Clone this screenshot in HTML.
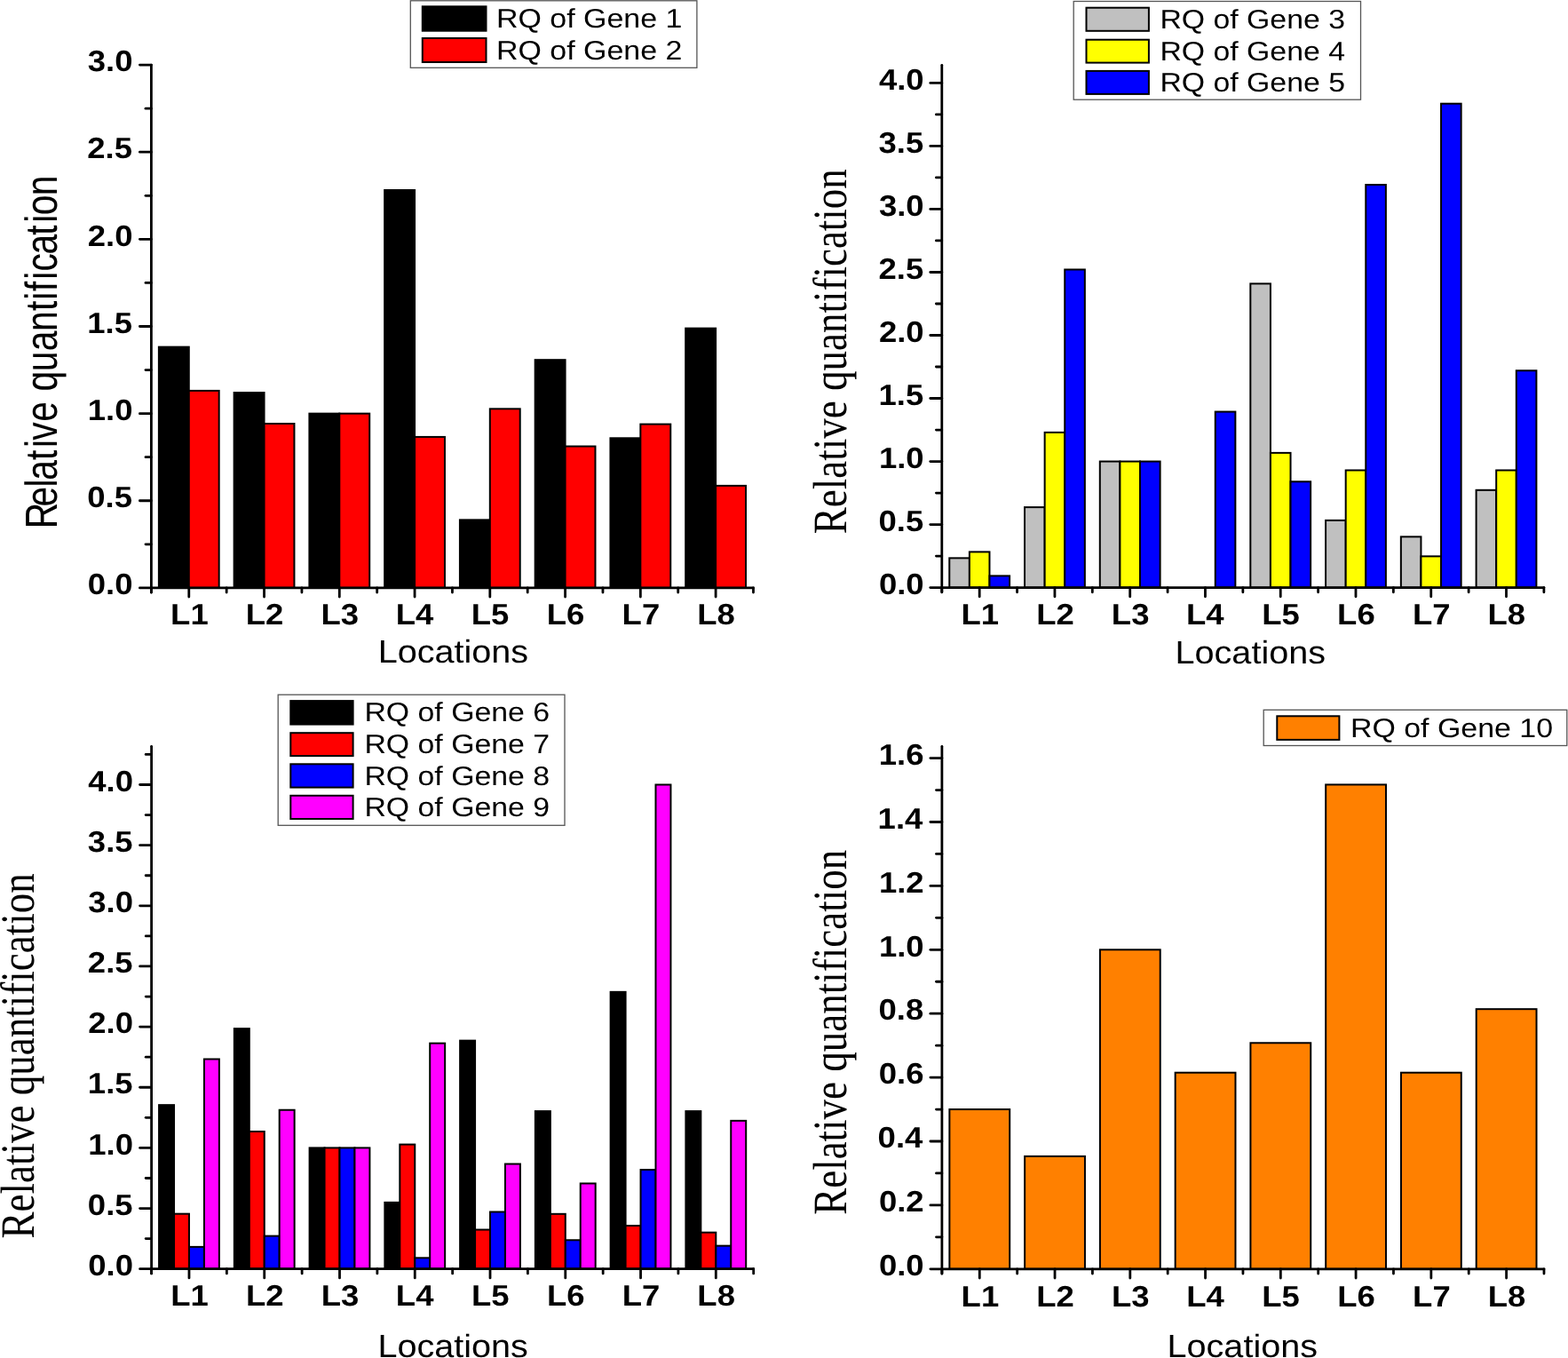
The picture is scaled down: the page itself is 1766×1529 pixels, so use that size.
<!DOCTYPE html>
<html><head><meta charset="utf-8"><title>Relative quantification charts</title>
<style>html,body{margin:0;padding:0;background:#fff;} svg{display:block;} text{text-rendering:geometricPrecision;}</style></head>
<body><svg width="1766" height="1529" viewBox="0 0 1766 1529">
<rect width="1766" height="1529" fill="#fff"/>
<rect x="178.88" y="390.65" width="33.90" height="271.25" fill="#000000" stroke="#000" stroke-width="2.0"/>
<rect x="212.78" y="439.92" width="33.90" height="221.98" fill="#ff0000" stroke="#000" stroke-width="2.0"/>
<rect x="263.64" y="442.08" width="33.90" height="219.82" fill="#000000" stroke="#000" stroke-width="2.0"/>
<rect x="297.54" y="477.01" width="33.90" height="184.89" fill="#ff0000" stroke="#000" stroke-width="2.0"/>
<rect x="348.40" y="465.63" width="33.90" height="196.27" fill="#000000" stroke="#000" stroke-width="2.0"/>
<rect x="382.30" y="465.63" width="33.90" height="196.27" fill="#ff0000" stroke="#000" stroke-width="2.0"/>
<rect x="433.16" y="214.01" width="33.90" height="447.89" fill="#000000" stroke="#000" stroke-width="2.0"/>
<rect x="467.06" y="491.93" width="33.90" height="169.97" fill="#ff0000" stroke="#000" stroke-width="2.0"/>
<rect x="517.92" y="585.35" width="33.90" height="76.55" fill="#000000" stroke="#000" stroke-width="2.0"/>
<rect x="551.82" y="460.33" width="33.90" height="201.57" fill="#ff0000" stroke="#000" stroke-width="2.0"/>
<rect x="602.68" y="405.18" width="33.90" height="256.72" fill="#000000" stroke="#000" stroke-width="2.0"/>
<rect x="636.58" y="502.53" width="33.90" height="159.37" fill="#ff0000" stroke="#000" stroke-width="2.0"/>
<rect x="687.44" y="493.30" width="33.90" height="168.60" fill="#000000" stroke="#000" stroke-width="2.0"/>
<rect x="721.34" y="477.60" width="33.90" height="184.30" fill="#ff0000" stroke="#000" stroke-width="2.0"/>
<rect x="772.20" y="369.65" width="33.90" height="292.25" fill="#000000" stroke="#000" stroke-width="2.0"/>
<rect x="806.10" y="546.89" width="33.90" height="115.01" fill="#ff0000" stroke="#000" stroke-width="2.0"/>
<g stroke="#000" stroke-width="2.8" stroke-linecap="round" fill="none">
<path d="M170.40,73.05V667.10"/>
<path d="M170.40,661.90H848.48"/>
<path d="M157.40,661.90H170.40"/>
<path d="M164.00,612.83H170.40"/>
<path d="M157.40,563.76H170.40"/>
<path d="M164.00,514.70H170.40"/>
<path d="M157.40,465.63H170.40"/>
<path d="M164.00,416.56H170.40"/>
<path d="M157.40,367.49H170.40"/>
<path d="M164.00,318.43H170.40"/>
<path d="M157.40,269.36H170.40"/>
<path d="M164.00,220.29H170.40"/>
<path d="M157.40,171.22H170.40"/>
<path d="M164.00,122.16H170.40"/>
<path d="M157.40,73.09H170.40"/>
<path d="M170.40,661.90V667.10"/>
<path d="M255.16,661.90V667.10"/>
<path d="M339.92,661.90V667.10"/>
<path d="M424.68,661.90V667.10"/>
<path d="M509.44,661.90V667.10"/>
<path d="M594.20,661.90V667.10"/>
<path d="M678.96,661.90V667.10"/>
<path d="M763.72,661.90V667.10"/>
<path d="M848.48,661.90V667.10"/>
<path d="M212.78,661.90V672.10"/>
<path d="M297.54,661.90V672.10"/>
<path d="M382.30,661.90V672.10"/>
<path d="M467.06,661.90V672.10"/>
<path d="M551.82,661.90V672.10"/>
<path d="M636.58,661.90V672.10"/>
<path d="M721.34,661.90V672.10"/>
<path d="M806.10,661.90V672.10"/>
</g>
<text transform="translate(98.70,669.11) scale(1.1000,1)" style="font-family:'Liberation Sans',Arial,sans-serif;font-weight:bold;font-size:33.20px">0.0</text>
<text transform="translate(98.24,570.98) scale(1.1000,1)" style="font-family:'Liberation Sans',Arial,sans-serif;font-weight:bold;font-size:33.20px">0.5</text>
<text transform="translate(98.70,472.84) scale(1.1000,1)" style="font-family:'Liberation Sans',Arial,sans-serif;font-weight:bold;font-size:33.20px">1.0</text>
<text transform="translate(98.24,374.54) scale(1.1000,1)" style="font-family:'Liberation Sans',Arial,sans-serif;font-weight:bold;font-size:33.20px">1.5</text>
<text transform="translate(98.70,276.57) scale(1.1000,1)" style="font-family:'Liberation Sans',Arial,sans-serif;font-weight:bold;font-size:33.20px">2.0</text>
<text transform="translate(98.24,178.44) scale(1.1000,1)" style="font-family:'Liberation Sans',Arial,sans-serif;font-weight:bold;font-size:33.20px">2.5</text>
<text transform="translate(98.70,80.26) scale(1.1000,1)" style="font-family:'Liberation Sans',Arial,sans-serif;font-weight:bold;font-size:33.20px">3.0</text>
<text transform="translate(192.11,702.90) scale(1.1000,1)" style="font-family:'Liberation Sans',Arial,sans-serif;font-weight:bold;font-size:33.20px">L1</text>
<text transform="translate(276.76,702.90) scale(1.1000,1)" style="font-family:'Liberation Sans',Arial,sans-serif;font-weight:bold;font-size:33.20px">L2</text>
<text transform="translate(361.43,702.90) scale(1.1000,1)" style="font-family:'Liberation Sans',Arial,sans-serif;font-weight:bold;font-size:33.20px">L3</text>
<text transform="translate(445.65,702.90) scale(1.1000,1)" style="font-family:'Liberation Sans',Arial,sans-serif;font-weight:bold;font-size:33.20px">L4</text>
<text transform="translate(530.82,702.90) scale(1.1000,1)" style="font-family:'Liberation Sans',Arial,sans-serif;font-weight:bold;font-size:33.20px">L5</text>
<text transform="translate(615.71,702.90) scale(1.1000,1)" style="font-family:'Liberation Sans',Arial,sans-serif;font-weight:bold;font-size:33.20px">L6</text>
<text transform="translate(700.61,702.90) scale(1.1000,1)" style="font-family:'Liberation Sans',Arial,sans-serif;font-weight:bold;font-size:33.20px">L7</text>
<text transform="translate(785.14,702.90) scale(1.1000,1)" style="font-family:'Liberation Sans',Arial,sans-serif;font-weight:bold;font-size:33.20px">L8</text>
<text transform="translate(425.63,746.30) scale(1.0940,1)" style="font-family:'Liberation Sans',Arial,sans-serif;font-size:36.20px">Locations</text>
<text x="0.00 24.79 46.73 54.47 77.21 91.12 99.46 120.51 143.25 154.65 176.89 199.93 222.16 245.20 257.51 267.25 280.56 289.60 308.65 330.59 344.50 352.94 374.98" y="0" transform="translate(63.95,595.21) rotate(-90) scale(1.0000,1.2460)" style="font-family:'Liberation Sans',Arial,sans-serif;font-size:40.70px">Relative quantification</text>
<rect x="462.30" y="0.80" width="322.60" height="75.50" fill="#fff" stroke="#555" stroke-width="1.3"/>
<rect x="475.80" y="7.30" width="71.70" height="27.40" fill="#000000" stroke="#000" stroke-width="2"/>
<text transform="translate(559.00,31.03) scale(1.1243,1)" style="font-family:'Liberation Sans',Arial,sans-serif;font-size:30.20px">RQ of Gene 1</text>
<rect x="475.80" y="43.00" width="71.70" height="27.00" fill="#ff0000" stroke="#000" stroke-width="2"/>
<text transform="translate(559.00,67.00) scale(1.1243,1)" style="font-family:'Liberation Sans',Arial,sans-serif;font-size:30.20px">RQ of Gene 2</text>
<rect x="1069.28" y="628.36" width="22.60" height="33.24" fill="#c0c0c0" stroke="#000" stroke-width="2.0"/>
<rect x="1091.88" y="621.40" width="22.60" height="40.20" fill="#ffff00" stroke="#000" stroke-width="2.0"/>
<rect x="1114.48" y="648.39" width="22.60" height="13.21" fill="#0000ff" stroke="#000" stroke-width="2.0"/>
<rect x="1154.04" y="571.11" width="22.60" height="90.49" fill="#c0c0c0" stroke="#000" stroke-width="2.0"/>
<rect x="1176.64" y="486.88" width="22.60" height="174.72" fill="#ffff00" stroke="#000" stroke-width="2.0"/>
<rect x="1199.24" y="303.49" width="22.60" height="358.11" fill="#0000ff" stroke="#000" stroke-width="2.0"/>
<rect x="1238.80" y="519.55" width="22.60" height="142.05" fill="#c0c0c0" stroke="#000" stroke-width="2.0"/>
<rect x="1261.40" y="519.55" width="22.60" height="142.05" fill="#ffff00" stroke="#000" stroke-width="2.0"/>
<rect x="1284.00" y="519.55" width="22.60" height="142.05" fill="#0000ff" stroke="#000" stroke-width="2.0"/>
<rect x="1368.76" y="463.58" width="22.60" height="198.02" fill="#0000ff" stroke="#000" stroke-width="2.0"/>
<rect x="1408.32" y="319.40" width="22.60" height="342.20" fill="#c0c0c0" stroke="#000" stroke-width="2.0"/>
<rect x="1430.92" y="509.89" width="22.60" height="151.71" fill="#ffff00" stroke="#000" stroke-width="2.0"/>
<rect x="1453.52" y="542.28" width="22.60" height="119.32" fill="#0000ff" stroke="#000" stroke-width="2.0"/>
<rect x="1493.08" y="585.89" width="22.60" height="75.71" fill="#c0c0c0" stroke="#000" stroke-width="2.0"/>
<rect x="1515.68" y="529.49" width="22.60" height="132.11" fill="#ffff00" stroke="#000" stroke-width="2.0"/>
<rect x="1538.28" y="208.03" width="22.60" height="453.57" fill="#0000ff" stroke="#000" stroke-width="2.0"/>
<rect x="1577.84" y="604.35" width="22.60" height="57.25" fill="#c0c0c0" stroke="#000" stroke-width="2.0"/>
<rect x="1600.44" y="626.37" width="22.60" height="35.23" fill="#ffff00" stroke="#000" stroke-width="2.0"/>
<rect x="1623.04" y="116.70" width="22.60" height="544.90" fill="#0000ff" stroke="#000" stroke-width="2.0"/>
<rect x="1662.60" y="551.80" width="22.60" height="109.80" fill="#c0c0c0" stroke="#000" stroke-width="2.0"/>
<rect x="1685.20" y="529.49" width="22.60" height="132.11" fill="#ffff00" stroke="#000" stroke-width="2.0"/>
<rect x="1707.80" y="417.27" width="22.60" height="244.33" fill="#0000ff" stroke="#000" stroke-width="2.0"/>
<g stroke="#000" stroke-width="2.8" stroke-linecap="round" fill="none">
<path d="M1060.80,73.30V666.80"/>
<path d="M1060.80,661.60H1738.88"/>
<path d="M1047.80,661.60H1060.80"/>
<path d="M1054.40,626.09H1060.80"/>
<path d="M1047.80,590.58H1060.80"/>
<path d="M1054.40,555.06H1060.80"/>
<path d="M1047.80,519.55H1060.80"/>
<path d="M1054.40,484.04H1060.80"/>
<path d="M1047.80,448.52H1060.80"/>
<path d="M1054.40,413.01H1060.80"/>
<path d="M1047.80,377.50H1060.80"/>
<path d="M1054.40,341.99H1060.80"/>
<path d="M1047.80,306.48H1060.80"/>
<path d="M1054.40,270.96H1060.80"/>
<path d="M1047.80,235.45H1060.80"/>
<path d="M1054.40,199.94H1060.80"/>
<path d="M1047.80,164.42H1060.80"/>
<path d="M1054.40,128.91H1060.80"/>
<path d="M1047.80,93.40H1060.80"/>
<path d="M1060.80,661.60V666.80"/>
<path d="M1145.56,661.60V666.80"/>
<path d="M1230.32,661.60V666.80"/>
<path d="M1315.08,661.60V666.80"/>
<path d="M1399.84,661.60V666.80"/>
<path d="M1484.60,661.60V666.80"/>
<path d="M1569.36,661.60V666.80"/>
<path d="M1654.12,661.60V666.80"/>
<path d="M1738.88,661.60V666.80"/>
<path d="M1103.18,661.60V671.80"/>
<path d="M1187.94,661.60V671.80"/>
<path d="M1272.70,661.60V671.80"/>
<path d="M1357.46,661.60V671.80"/>
<path d="M1442.22,661.60V671.80"/>
<path d="M1526.98,661.60V671.80"/>
<path d="M1611.74,661.60V671.80"/>
<path d="M1696.50,661.60V671.80"/>
</g>
<text transform="translate(989.90,668.81) scale(1.1000,1)" style="font-family:'Liberation Sans',Arial,sans-serif;font-weight:bold;font-size:33.20px">0.0</text>
<text transform="translate(989.44,597.79) scale(1.1000,1)" style="font-family:'Liberation Sans',Arial,sans-serif;font-weight:bold;font-size:33.20px">0.5</text>
<text transform="translate(989.90,526.76) scale(1.1000,1)" style="font-family:'Liberation Sans',Arial,sans-serif;font-weight:bold;font-size:33.20px">1.0</text>
<text transform="translate(989.44,455.57) scale(1.1000,1)" style="font-family:'Liberation Sans',Arial,sans-serif;font-weight:bold;font-size:33.20px">1.5</text>
<text transform="translate(989.90,384.71) scale(1.1000,1)" style="font-family:'Liberation Sans',Arial,sans-serif;font-weight:bold;font-size:33.20px">2.0</text>
<text transform="translate(989.44,313.69) scale(1.1000,1)" style="font-family:'Liberation Sans',Arial,sans-serif;font-weight:bold;font-size:33.20px">2.5</text>
<text transform="translate(989.90,242.62) scale(1.1000,1)" style="font-family:'Liberation Sans',Arial,sans-serif;font-weight:bold;font-size:33.20px">3.0</text>
<text transform="translate(989.44,171.60) scale(1.1000,1)" style="font-family:'Liberation Sans',Arial,sans-serif;font-weight:bold;font-size:33.20px">3.5</text>
<text transform="translate(989.90,100.61) scale(1.1000,1)" style="font-family:'Liberation Sans',Arial,sans-serif;font-weight:bold;font-size:33.20px">4.0</text>
<text transform="translate(1082.51,702.90) scale(1.1000,1)" style="font-family:'Liberation Sans',Arial,sans-serif;font-weight:bold;font-size:33.20px">L1</text>
<text transform="translate(1167.16,702.90) scale(1.1000,1)" style="font-family:'Liberation Sans',Arial,sans-serif;font-weight:bold;font-size:33.20px">L2</text>
<text transform="translate(1251.83,702.90) scale(1.1000,1)" style="font-family:'Liberation Sans',Arial,sans-serif;font-weight:bold;font-size:33.20px">L3</text>
<text transform="translate(1336.05,702.90) scale(1.1000,1)" style="font-family:'Liberation Sans',Arial,sans-serif;font-weight:bold;font-size:33.20px">L4</text>
<text transform="translate(1421.22,702.90) scale(1.1000,1)" style="font-family:'Liberation Sans',Arial,sans-serif;font-weight:bold;font-size:33.20px">L5</text>
<text transform="translate(1506.11,702.90) scale(1.1000,1)" style="font-family:'Liberation Sans',Arial,sans-serif;font-weight:bold;font-size:33.20px">L6</text>
<text transform="translate(1591.01,702.90) scale(1.1000,1)" style="font-family:'Liberation Sans',Arial,sans-serif;font-weight:bold;font-size:33.20px">L7</text>
<text transform="translate(1675.54,702.90) scale(1.1000,1)" style="font-family:'Liberation Sans',Arial,sans-serif;font-weight:bold;font-size:33.20px">L8</text>
<text transform="translate(1323.53,747.10) scale(1.0940,1)" style="font-family:'Liberation Sans',Arial,sans-serif;font-size:36.20px">Locations</text>
<text transform="translate(952.60,601.25) rotate(-90) scale(1.0000,1.1990)" style="font-family:'Liberation Serif','Times New Roman',serif;font-size:45.00px">Relative quantification</text>
<rect x="1209.20" y="1.50" width="323.30" height="110.70" fill="#fff" stroke="#555" stroke-width="1.3"/>
<rect x="1223.50" y="8.70" width="70.40" height="26.10" fill="#c0c0c0" stroke="#000" stroke-width="2"/>
<text transform="translate(1306.41,31.60) scale(1.1196,1)" style="font-family:'Liberation Sans',Arial,sans-serif;font-size:30.20px">RQ of Gene 3</text>
<rect x="1223.50" y="44.70" width="70.40" height="25.90" fill="#ffff00" stroke="#000" stroke-width="2"/>
<text transform="translate(1306.41,67.70) scale(1.1196,1)" style="font-family:'Liberation Sans',Arial,sans-serif;font-size:30.20px">RQ of Gene 4</text>
<rect x="1223.50" y="79.90" width="70.40" height="26.00" fill="#0000ff" stroke="#000" stroke-width="2"/>
<text transform="translate(1306.41,102.60) scale(1.1196,1)" style="font-family:'Liberation Sans',Arial,sans-serif;font-size:30.20px">RQ of Gene 5</text>
<rect x="179.08" y="1244.15" width="16.95" height="184.55" fill="#000000" stroke="#000" stroke-width="2.0"/>
<rect x="196.03" y="1366.68" width="16.95" height="62.02" fill="#ff0000" stroke="#000" stroke-width="2.0"/>
<rect x="212.98" y="1403.89" width="16.95" height="24.81" fill="#0000ff" stroke="#000" stroke-width="2.0"/>
<rect x="229.93" y="1192.49" width="16.95" height="236.21" fill="#ff00ff" stroke="#000" stroke-width="2.0"/>
<rect x="263.84" y="1158.14" width="16.95" height="270.56" fill="#000000" stroke="#000" stroke-width="2.0"/>
<rect x="280.79" y="1274.00" width="16.95" height="154.70" fill="#ff0000" stroke="#000" stroke-width="2.0"/>
<rect x="297.74" y="1391.63" width="16.95" height="37.07" fill="#0000ff" stroke="#000" stroke-width="2.0"/>
<rect x="314.69" y="1249.74" width="16.95" height="178.96" fill="#ff00ff" stroke="#000" stroke-width="2.0"/>
<rect x="348.60" y="1292.40" width="16.95" height="136.30" fill="#000000" stroke="#000" stroke-width="2.0"/>
<rect x="365.55" y="1292.40" width="16.95" height="136.30" fill="#ff0000" stroke="#000" stroke-width="2.0"/>
<rect x="382.50" y="1292.40" width="16.95" height="136.30" fill="#0000ff" stroke="#000" stroke-width="2.0"/>
<rect x="399.45" y="1292.40" width="16.95" height="136.30" fill="#ff00ff" stroke="#000" stroke-width="2.0"/>
<rect x="433.36" y="1353.87" width="16.95" height="74.83" fill="#000000" stroke="#000" stroke-width="2.0"/>
<rect x="450.31" y="1288.58" width="16.95" height="140.12" fill="#ff0000" stroke="#000" stroke-width="2.0"/>
<rect x="467.26" y="1416.30" width="16.95" height="12.40" fill="#0000ff" stroke="#000" stroke-width="2.0"/>
<rect x="484.21" y="1174.64" width="16.95" height="254.06" fill="#ff00ff" stroke="#000" stroke-width="2.0"/>
<rect x="518.12" y="1171.64" width="16.95" height="257.06" fill="#000000" stroke="#000" stroke-width="2.0"/>
<rect x="535.07" y="1384.54" width="16.95" height="44.16" fill="#ff0000" stroke="#000" stroke-width="2.0"/>
<rect x="552.02" y="1364.50" width="16.95" height="64.20" fill="#0000ff" stroke="#000" stroke-width="2.0"/>
<rect x="568.97" y="1310.53" width="16.95" height="118.17" fill="#ff00ff" stroke="#000" stroke-width="2.0"/>
<rect x="602.88" y="1251.10" width="16.95" height="177.60" fill="#000000" stroke="#000" stroke-width="2.0"/>
<rect x="619.83" y="1366.82" width="16.95" height="61.88" fill="#ff0000" stroke="#000" stroke-width="2.0"/>
<rect x="636.78" y="1396.26" width="16.95" height="32.44" fill="#0000ff" stroke="#000" stroke-width="2.0"/>
<rect x="653.73" y="1332.47" width="16.95" height="96.23" fill="#ff00ff" stroke="#000" stroke-width="2.0"/>
<rect x="687.64" y="1116.85" width="16.95" height="311.85" fill="#000000" stroke="#000" stroke-width="2.0"/>
<rect x="704.59" y="1380.04" width="16.95" height="48.66" fill="#ff0000" stroke="#000" stroke-width="2.0"/>
<rect x="721.54" y="1317.07" width="16.95" height="111.63" fill="#0000ff" stroke="#000" stroke-width="2.0"/>
<rect x="738.49" y="883.50" width="16.95" height="545.20" fill="#ff00ff" stroke="#000" stroke-width="2.0"/>
<rect x="772.40" y="1251.10" width="16.95" height="177.60" fill="#000000" stroke="#000" stroke-width="2.0"/>
<rect x="789.35" y="1387.67" width="16.95" height="41.03" fill="#ff0000" stroke="#000" stroke-width="2.0"/>
<rect x="806.30" y="1402.67" width="16.95" height="26.03" fill="#0000ff" stroke="#000" stroke-width="2.0"/>
<rect x="823.25" y="1261.87" width="16.95" height="166.83" fill="#ff00ff" stroke="#000" stroke-width="2.0"/>
<g stroke="#000" stroke-width="2.8" stroke-linecap="round" fill="none">
<path d="M170.60,840.30V1433.90"/>
<path d="M170.60,1428.70H848.68"/>
<path d="M157.60,1428.70H170.60"/>
<path d="M164.20,1394.62H170.60"/>
<path d="M157.60,1360.55H170.60"/>
<path d="M164.20,1326.48H170.60"/>
<path d="M157.60,1292.40H170.60"/>
<path d="M164.20,1258.33H170.60"/>
<path d="M157.60,1224.25H170.60"/>
<path d="M164.20,1190.17H170.60"/>
<path d="M157.60,1156.10H170.60"/>
<path d="M164.20,1122.03H170.60"/>
<path d="M157.60,1087.95H170.60"/>
<path d="M164.20,1053.88H170.60"/>
<path d="M157.60,1019.80H170.60"/>
<path d="M164.20,985.73H170.60"/>
<path d="M157.60,951.65H170.60"/>
<path d="M164.20,917.58H170.60"/>
<path d="M157.60,883.50H170.60"/>
<path d="M164.20,849.42H170.60"/>
<path d="M170.60,1428.70V1433.90"/>
<path d="M255.36,1428.70V1433.90"/>
<path d="M340.12,1428.70V1433.90"/>
<path d="M424.88,1428.70V1433.90"/>
<path d="M509.64,1428.70V1433.90"/>
<path d="M594.40,1428.70V1433.90"/>
<path d="M679.16,1428.70V1433.90"/>
<path d="M763.92,1428.70V1433.90"/>
<path d="M848.68,1428.70V1433.90"/>
<path d="M212.98,1428.70V1438.90"/>
<path d="M297.74,1428.70V1438.90"/>
<path d="M382.50,1428.70V1438.90"/>
<path d="M467.26,1428.70V1438.90"/>
<path d="M552.02,1428.70V1438.90"/>
<path d="M636.78,1428.70V1438.90"/>
<path d="M721.54,1428.70V1438.90"/>
<path d="M806.30,1428.70V1438.90"/>
</g>
<text transform="translate(99.30,1435.91) scale(1.1000,1)" style="font-family:'Liberation Sans',Arial,sans-serif;font-weight:bold;font-size:33.20px">0.0</text>
<text transform="translate(98.84,1367.76) scale(1.1000,1)" style="font-family:'Liberation Sans',Arial,sans-serif;font-weight:bold;font-size:33.20px">0.5</text>
<text transform="translate(99.30,1299.61) scale(1.1000,1)" style="font-family:'Liberation Sans',Arial,sans-serif;font-weight:bold;font-size:33.20px">1.0</text>
<text transform="translate(98.84,1231.30) scale(1.1000,1)" style="font-family:'Liberation Sans',Arial,sans-serif;font-weight:bold;font-size:33.20px">1.5</text>
<text transform="translate(99.30,1163.31) scale(1.1000,1)" style="font-family:'Liberation Sans',Arial,sans-serif;font-weight:bold;font-size:33.20px">2.0</text>
<text transform="translate(98.84,1095.16) scale(1.1000,1)" style="font-family:'Liberation Sans',Arial,sans-serif;font-weight:bold;font-size:33.20px">2.5</text>
<text transform="translate(99.30,1026.97) scale(1.1000,1)" style="font-family:'Liberation Sans',Arial,sans-serif;font-weight:bold;font-size:33.20px">3.0</text>
<text transform="translate(98.84,958.82) scale(1.1000,1)" style="font-family:'Liberation Sans',Arial,sans-serif;font-weight:bold;font-size:33.20px">3.5</text>
<text transform="translate(99.30,890.71) scale(1.1000,1)" style="font-family:'Liberation Sans',Arial,sans-serif;font-weight:bold;font-size:33.20px">4.0</text>
<text transform="translate(192.31,1470.00) scale(1.1000,1)" style="font-family:'Liberation Sans',Arial,sans-serif;font-weight:bold;font-size:33.20px">L1</text>
<text transform="translate(276.96,1470.00) scale(1.1000,1)" style="font-family:'Liberation Sans',Arial,sans-serif;font-weight:bold;font-size:33.20px">L2</text>
<text transform="translate(361.63,1470.00) scale(1.1000,1)" style="font-family:'Liberation Sans',Arial,sans-serif;font-weight:bold;font-size:33.20px">L3</text>
<text transform="translate(445.85,1470.00) scale(1.1000,1)" style="font-family:'Liberation Sans',Arial,sans-serif;font-weight:bold;font-size:33.20px">L4</text>
<text transform="translate(531.02,1470.00) scale(1.1000,1)" style="font-family:'Liberation Sans',Arial,sans-serif;font-weight:bold;font-size:33.20px">L5</text>
<text transform="translate(615.91,1470.00) scale(1.1000,1)" style="font-family:'Liberation Sans',Arial,sans-serif;font-weight:bold;font-size:33.20px">L6</text>
<text transform="translate(700.81,1470.00) scale(1.1000,1)" style="font-family:'Liberation Sans',Arial,sans-serif;font-weight:bold;font-size:33.20px">L7</text>
<text transform="translate(785.34,1470.00) scale(1.1000,1)" style="font-family:'Liberation Sans',Arial,sans-serif;font-weight:bold;font-size:33.20px">L8</text>
<text transform="translate(425.43,1528.30) scale(1.0940,1)" style="font-family:'Liberation Sans',Arial,sans-serif;font-size:36.20px">Locations</text>
<text transform="translate(37.60,1394.45) rotate(-90) scale(1.0000,1.1990)" style="font-family:'Liberation Serif','Times New Roman',serif;font-size:45.00px">Relative quantification</text>
<rect x="313.20" y="782.20" width="322.80" height="147.10" fill="#fff" stroke="#555" stroke-width="1.3"/>
<rect x="327.30" y="789.10" width="70.30" height="26.50" fill="#000000" stroke="#000" stroke-width="2"/>
<text transform="translate(410.41,811.90) scale(1.1207,1)" style="font-family:'Liberation Sans',Arial,sans-serif;font-size:30.20px">RQ of Gene 6</text>
<rect x="327.30" y="825.20" width="70.30" height="25.90" fill="#ff0000" stroke="#000" stroke-width="2"/>
<text transform="translate(410.41,847.70) scale(1.1207,1)" style="font-family:'Liberation Sans',Arial,sans-serif;font-size:30.20px">RQ of Gene 7</text>
<rect x="327.30" y="860.30" width="70.30" height="26.30" fill="#0000ff" stroke="#000" stroke-width="2"/>
<text transform="translate(410.41,883.90) scale(1.1207,1)" style="font-family:'Liberation Sans',Arial,sans-serif;font-size:30.20px">RQ of Gene 8</text>
<rect x="327.30" y="895.80" width="70.30" height="26.20" fill="#ff00ff" stroke="#000" stroke-width="2"/>
<text transform="translate(410.41,918.90) scale(1.1207,1)" style="font-family:'Liberation Sans',Arial,sans-serif;font-size:30.20px">RQ of Gene 9</text>
<rect x="1069.38" y="1249.05" width="67.81" height="179.75" fill="#ff8000" stroke="#000" stroke-width="2.0"/>
<rect x="1154.14" y="1301.90" width="67.81" height="126.90" fill="#ff8000" stroke="#000" stroke-width="2.0"/>
<rect x="1238.90" y="1069.30" width="67.81" height="359.50" fill="#ff8000" stroke="#000" stroke-width="2.0"/>
<rect x="1323.66" y="1207.71" width="67.81" height="221.09" fill="#ff8000" stroke="#000" stroke-width="2.0"/>
<rect x="1408.42" y="1174.27" width="67.81" height="254.53" fill="#ff8000" stroke="#000" stroke-width="2.0"/>
<rect x="1493.18" y="883.44" width="67.81" height="545.36" fill="#ff8000" stroke="#000" stroke-width="2.0"/>
<rect x="1577.94" y="1207.71" width="67.81" height="221.09" fill="#ff8000" stroke="#000" stroke-width="2.0"/>
<rect x="1662.70" y="1136.17" width="67.81" height="292.63" fill="#ff8000" stroke="#000" stroke-width="2.0"/>
<g stroke="#000" stroke-width="2.8" stroke-linecap="round" fill="none">
<path d="M1060.90,840.30V1434.00"/>
<path d="M1060.90,1428.80H1738.98"/>
<path d="M1047.90,1428.80H1060.90"/>
<path d="M1054.50,1392.85H1060.90"/>
<path d="M1047.90,1356.90H1060.90"/>
<path d="M1054.50,1320.95H1060.90"/>
<path d="M1047.90,1285.00H1060.90"/>
<path d="M1054.50,1249.05H1060.90"/>
<path d="M1047.90,1213.10H1060.90"/>
<path d="M1054.50,1177.15H1060.90"/>
<path d="M1047.90,1141.20H1060.90"/>
<path d="M1054.50,1105.25H1060.90"/>
<path d="M1047.90,1069.30H1060.90"/>
<path d="M1054.50,1033.35H1060.90"/>
<path d="M1047.90,997.40H1060.90"/>
<path d="M1054.50,961.45H1060.90"/>
<path d="M1047.90,925.50H1060.90"/>
<path d="M1054.50,889.55H1060.90"/>
<path d="M1047.90,853.60H1060.90"/>
<path d="M1060.90,1428.80V1434.00"/>
<path d="M1145.66,1428.80V1434.00"/>
<path d="M1230.42,1428.80V1434.00"/>
<path d="M1315.18,1428.80V1434.00"/>
<path d="M1399.94,1428.80V1434.00"/>
<path d="M1484.70,1428.80V1434.00"/>
<path d="M1569.46,1428.80V1434.00"/>
<path d="M1654.22,1428.80V1434.00"/>
<path d="M1738.98,1428.80V1434.00"/>
<path d="M1103.28,1428.80V1439.00"/>
<path d="M1188.04,1428.80V1439.00"/>
<path d="M1272.80,1428.80V1439.00"/>
<path d="M1357.56,1428.80V1439.00"/>
<path d="M1442.32,1428.80V1439.00"/>
<path d="M1527.08,1428.80V1439.00"/>
<path d="M1611.84,1428.80V1439.00"/>
<path d="M1696.60,1428.80V1439.00"/>
</g>
<text transform="translate(989.90,1436.01) scale(1.1000,1)" style="font-family:'Liberation Sans',Arial,sans-serif;font-weight:bold;font-size:33.20px">0.0</text>
<text transform="translate(989.90,1364.11) scale(1.1000,1)" style="font-family:'Liberation Sans',Arial,sans-serif;font-weight:bold;font-size:33.20px">0.2</text>
<text transform="translate(988.62,1292.21) scale(1.1000,1)" style="font-family:'Liberation Sans',Arial,sans-serif;font-weight:bold;font-size:33.20px">0.4</text>
<text transform="translate(989.72,1220.31) scale(1.1000,1)" style="font-family:'Liberation Sans',Arial,sans-serif;font-weight:bold;font-size:33.20px">0.6</text>
<text transform="translate(989.53,1148.41) scale(1.1000,1)" style="font-family:'Liberation Sans',Arial,sans-serif;font-weight:bold;font-size:33.20px">0.8</text>
<text transform="translate(989.90,1076.51) scale(1.1000,1)" style="font-family:'Liberation Sans',Arial,sans-serif;font-weight:bold;font-size:33.20px">1.0</text>
<text transform="translate(989.90,1004.78) scale(1.1000,1)" style="font-family:'Liberation Sans',Arial,sans-serif;font-weight:bold;font-size:33.20px">1.2</text>
<text transform="translate(988.62,932.71) scale(1.1000,1)" style="font-family:'Liberation Sans',Arial,sans-serif;font-weight:bold;font-size:33.20px">1.4</text>
<text transform="translate(989.72,860.81) scale(1.1000,1)" style="font-family:'Liberation Sans',Arial,sans-serif;font-weight:bold;font-size:33.20px">1.6</text>
<text transform="translate(1082.61,1470.50) scale(1.1000,1)" style="font-family:'Liberation Sans',Arial,sans-serif;font-weight:bold;font-size:33.20px">L1</text>
<text transform="translate(1167.26,1470.50) scale(1.1000,1)" style="font-family:'Liberation Sans',Arial,sans-serif;font-weight:bold;font-size:33.20px">L2</text>
<text transform="translate(1251.93,1470.50) scale(1.1000,1)" style="font-family:'Liberation Sans',Arial,sans-serif;font-weight:bold;font-size:33.20px">L3</text>
<text transform="translate(1336.15,1470.50) scale(1.1000,1)" style="font-family:'Liberation Sans',Arial,sans-serif;font-weight:bold;font-size:33.20px">L4</text>
<text transform="translate(1421.32,1470.50) scale(1.1000,1)" style="font-family:'Liberation Sans',Arial,sans-serif;font-weight:bold;font-size:33.20px">L5</text>
<text transform="translate(1506.21,1470.50) scale(1.1000,1)" style="font-family:'Liberation Sans',Arial,sans-serif;font-weight:bold;font-size:33.20px">L6</text>
<text transform="translate(1591.11,1470.50) scale(1.1000,1)" style="font-family:'Liberation Sans',Arial,sans-serif;font-weight:bold;font-size:33.20px">L7</text>
<text transform="translate(1675.64,1470.50) scale(1.1000,1)" style="font-family:'Liberation Sans',Arial,sans-serif;font-weight:bold;font-size:33.20px">L8</text>
<text transform="translate(1314.53,1528.30) scale(1.0940,1)" style="font-family:'Liberation Sans',Arial,sans-serif;font-size:36.20px">Locations</text>
<text transform="translate(952.60,1367.85) rotate(-90) scale(1.0000,1.1990)" style="font-family:'Liberation Serif','Times New Roman',serif;font-size:45.00px">Relative quantification</text>
<rect x="1423.20" y="799.30" width="341.60" height="40.20" fill="#fff" stroke="#555" stroke-width="1.3"/>
<rect x="1438.30" y="806.30" width="70.10" height="26.60" fill="#ff8000" stroke="#000" stroke-width="2"/>
<text transform="translate(1520.90,830.20) scale(1.1235,1)" style="font-family:'Liberation Sans',Arial,sans-serif;font-size:30.20px">RQ of Gene 10</text>
</svg></body></html>
